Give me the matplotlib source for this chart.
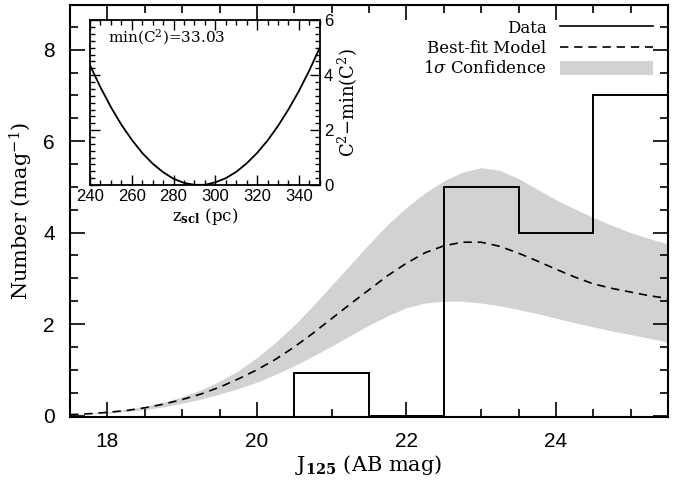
import numpy as np
import matplotlib
matplotlib.use("Agg")
import matplotlib.pyplot as plt
from matplotlib.lines import Line2D
from matplotlib.patches import Patch
from matplotlib.ticker import MultipleLocator

plt.rcParams['font.family'] = ['DejaVu Serif']
plt.rcParams['mathtext.fontset'] = 'dejavuserif'

# histogram of observed counts
bin_edges = [20.5, 21.5, 22.5, 23.5, 24.5, 25.5]
counts = [0.93, 0.0, 5.0, 4.0, 7.0]

# best-fit model and 1 sigma band
mag = [17.5, 17.75, 18.0, 18.25, 18.5, 18.75, 19.0, 19.25, 19.5, 19.75,
       20.0, 20.25, 20.5, 20.75, 21.0, 21.25, 21.5, 21.75, 22.0, 22.25,
       22.5, 22.75, 23.0, 23.25, 23.5, 23.75, 24.0, 24.25, 24.5, 24.75,
       25.0, 25.25, 25.5]
model = [0.02, 0.04, 0.07, 0.11, 0.17, 0.25, 0.35, 0.47, 0.62, 0.80,
         1.00, 1.23, 1.50, 1.80, 2.12, 2.44, 2.75, 3.06, 3.33, 3.56,
         3.71, 3.79, 3.79, 3.70, 3.55, 3.38, 3.20, 3.03, 2.88, 2.78,
         2.70, 2.62, 2.56]
upper = [0.02, 0.05, 0.08, 0.13, 0.20, 0.29, 0.41, 0.56, 0.75, 0.98,
         1.27, 1.60, 1.98, 2.40, 2.85, 3.30, 3.75, 4.18, 4.55, 4.87,
         5.13, 5.32, 5.42, 5.36, 5.18, 4.95, 4.72, 4.52, 4.33, 4.16,
         4.00, 3.87, 3.75]
lower = [0.01, 0.03, 0.05, 0.09, 0.13, 0.19, 0.27, 0.36, 0.47, 0.59,
         0.73, 0.90, 1.09, 1.30, 1.52, 1.75, 1.98, 2.18, 2.36, 2.46,
         2.50, 2.50, 2.46, 2.40, 2.32, 2.23, 2.13, 2.03, 1.94, 1.85,
         1.77, 1.69, 1.61]

# inset: C^2 - min(C^2) vs scale height
zscl = [240, 245, 250, 255, 260, 265, 270, 275, 280, 285, 290, 295,
        300, 305, 310, 315, 320, 325, 330, 335, 340, 345, 350]
dc2 = [4.36, 3.56, 2.84, 2.20, 1.65, 1.17, 0.78, 0.47, 0.23, 0.08, 0.01, 0.01,
       0.10, 0.25, 0.48, 0.79, 1.17, 1.62, 2.15, 2.75, 3.42, 4.17, 5.00]

fig = plt.figure(figsize=(6.94, 4.82), dpi=100)
ax = fig.add_axes([0.101, 0.135, 0.8615, 0.855])

ax.fill_between(mag, lower, upper, color="#d2d2d4", lw=0)
ax.plot(mag, model, color="k", ls=(0, (5, 3.5)), lw=1.2)
ax.stairs(counts, bin_edges, baseline=-0.03, color="k", lw=1.4)

ax.set_xlim(17.5, 25.5)
ax.set_ylim(-0.03, 8.98)
ax.xaxis.set_major_locator(MultipleLocator(2))
ax.xaxis.set_minor_locator(MultipleLocator(0.5))
ax.yaxis.set_major_locator(MultipleLocator(2))
ax.yaxis.set_minor_locator(MultipleLocator(0.5))
ax.tick_params(which="both", direction="in", top=True, right=True, width=1.2)
ax.tick_params(which="major", length=11, labelsize=15, pad=11)
ax.tick_params(which="minor", length=5.5)
for lab in ax.get_xticklabels() + ax.get_yticklabels():
    lab.set_family("Liberation Sans")
for s in ax.spines.values():
    s.set_linewidth(1.5)
ax.set_xlabel(r"J$_{\mathbf{125}}$ (AB mag)", fontsize=15, labelpad=1)
ax.set_ylabel(r"Number (mag$^{-1}$)", fontsize=15, labelpad=6)

handles = [Line2D([], [], color="k", lw=1.2),
           Line2D([], [], color="k", lw=1.2, ls=(0, (5, 3.5))),
           Patch(color="#d2d2d4", lw=0)]
labels = ["Data", "Best-fit Model", r"1$\sigma$ Confidence"]
ax.legend(handles, labels, loc="upper right", frameon=False, markerfirst=False,
          fontsize=12, handlelength=5.6, handleheight=0.9, labelspacing=0.2,
          borderaxespad=0.5, borderpad=0.4, handletextpad=0.8)

# inset
ins = fig.add_axes([0.1297, 0.616, 0.331, 0.342])
ins.plot(zscl, dc2, color="k", lw=1.3)
ins.set_xlim(240, 350)
ins.set_ylim(0, 6)
ins.xaxis.set_major_locator(MultipleLocator(20))
ins.xaxis.set_minor_locator(MultipleLocator(5))
ins.yaxis.set_major_locator(MultipleLocator(2))
ins.yaxis.set_minor_locator(MultipleLocator(0.25))
ins.yaxis.tick_right()
ins.yaxis.set_label_position("right")
ins.tick_params(which="both", direction="in", top=True, left=True, right=True,
                width=1.0, labelsize=12)
ins.tick_params(which="major", length=7, pad=3)
ins.tick_params(which="minor", length=3.5)
for lab in ins.get_xticklabels() + ins.get_yticklabels():
    lab.set_family("Liberation Sans")
for s in ins.spines.values():
    s.set_linewidth(1.3)
ins.set_xlabel(r"z$_{\mathbf{scl}}$ (pc)", fontsize=12, labelpad=1)
ins.set_ylabel(r"C$^2$$-$min(C$^2$)", fontsize=13, labelpad=2)
ins.text(0.08, 0.9, r"min(C$^2$)=33.03", transform=ins.transAxes,
         fontsize=11, va="center")

fig.savefig("out.png", dpi=100)
